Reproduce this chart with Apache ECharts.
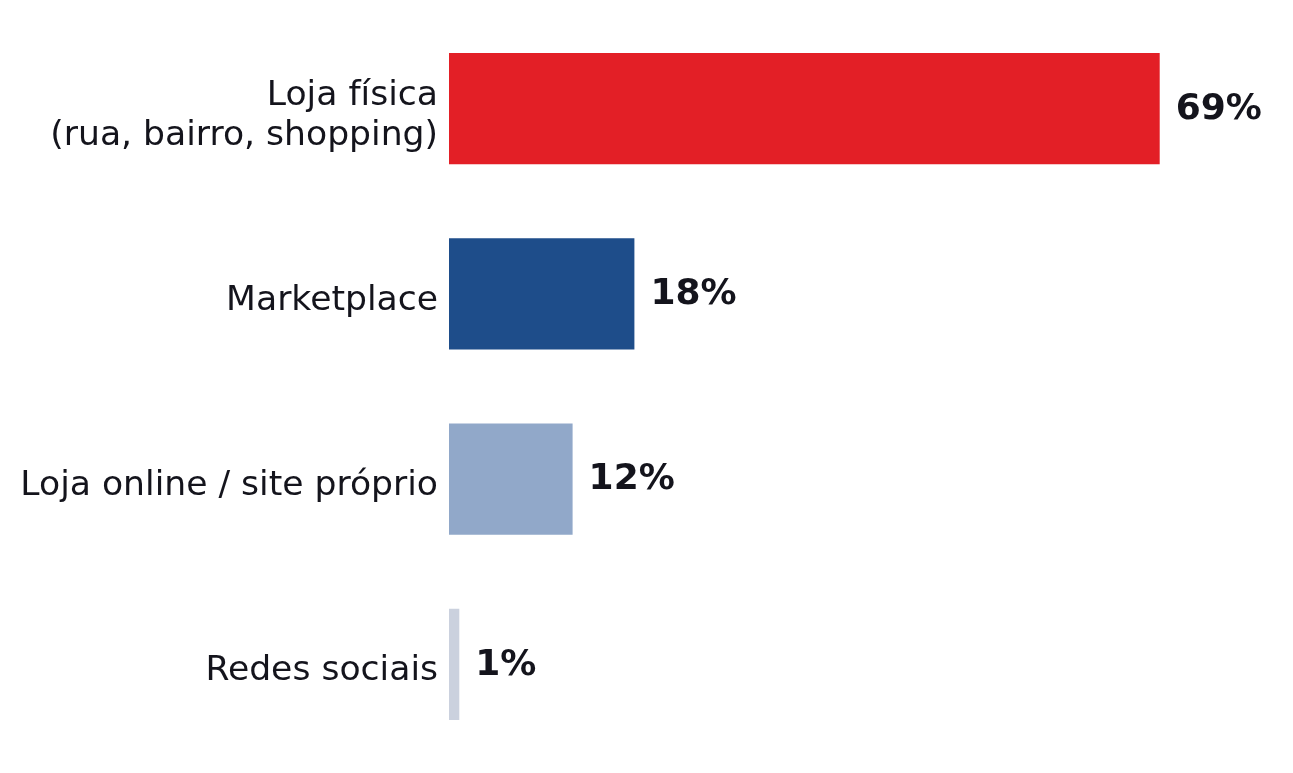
<!DOCTYPE html>
<html lang="pt">
<head>
    <meta charset="UTF-8">
    <title>Canais de compra</title>
    <script src="https://cdn.jsdelivr.net/npm/echarts@6/dist/echarts.min.js"></script>
    <style>
        html, body { margin: 0; padding: 0; height: 100%; overflow: hidden; background: #fff; }
        #chart { width: 1293px; height: 773px; }
    </style>
</head>
<body>
    <div id="chart"></div>
    <script>
        var categories = ['Loja física\n(rua, bairro, shopping)', 'Marketplace', 'Loja online / site próprio', 'Redes sociais'];
        var values = [69, 18, 12, 1];
        var colors = ['#e31f26', '#1e4d8a', '#91a8c9', '#cbd1de'];

        var chart = echarts.init(document.getElementById('chart'));
        chart.setOption({
            animation: false,
            grid: { left: 449, right: 20, top: 16, bottom: 16 },
            xAxis: {
                type: 'value',
                min: 0,
                max: 80,
                show: false
            },
            yAxis: {
                type: 'category',
                inverse: true,
                data: categories,
                axisLine: { show: false },
                axisTick: { show: false },
                axisLabel: {
                    margin: 11,
                    fontFamily: 'DejaVu Sans',
                    fontSize: 34.6,
                    lineHeight: 40,
                    color: '#14141c',
                    // empty first line pushes the label down a little
                    formatter: function (v) { return '{s|}\n' + v; },
                    rich: { s: { fontSize: 1, lineHeight: 14 } }
                }
            },
            series: [{
                type: 'bar',
                barCategoryGap: '40%',
                data: values.map(function (v, i) {
                    return { value: v, itemStyle: { color: colors[i] } };
                }),
                label: {
                    show: true,
                    position: 'right',
                    distance: 16,
                    offset: [0, 1],
                    formatter: '{c}%',
                    fontFamily: 'DejaVu Sans',
                    fontWeight: 'bold',
                    fontSize: 36,
                    color: '#14141c'
                }
            }]
        });
    </script>
</body>
</html>
